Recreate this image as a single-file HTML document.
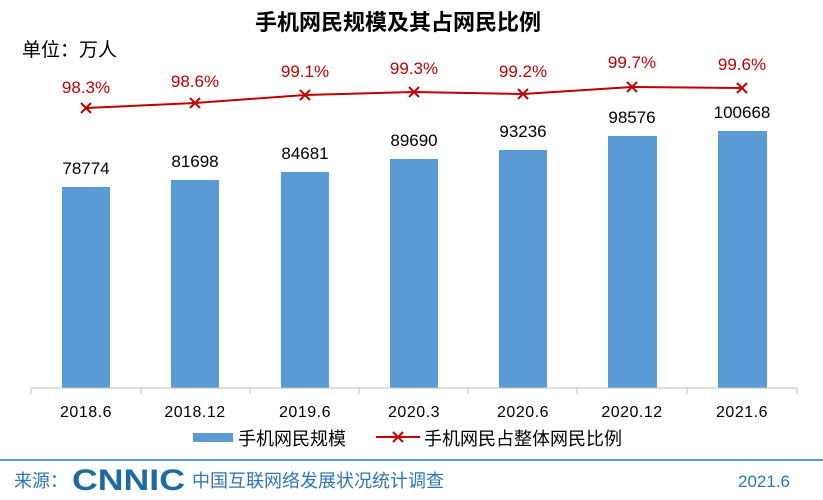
<!DOCTYPE html>
<html><head><meta charset="utf-8"><style>
body{margin:0;background:#fff;}
svg{display:block;}
text{font-family:"Liberation Sans","Noto Sans CJK SC",sans-serif;}
</style></head><body>
<svg width="823" height="500" viewBox="0 0 823 500" xmlns="http://www.w3.org/2000/svg">
<rect width="823" height="500" fill="#fff"/>
<text x="398" y="30" text-anchor="middle" font-size="22" font-weight="bold" fill="#000">手机网民规模及其占网民比例</text>
<text x="22" y="56" font-size="19" fill="#000">单位：万人</text>
<g fill="#5b9bd5">
<rect x="62" y="187" width="48" height="201"/>
<rect x="171" y="180" width="48" height="208"/>
<rect x="281" y="172" width="48" height="216"/>
<rect x="390" y="159" width="48" height="229"/>
<rect x="499" y="150" width="48" height="238"/>
<rect x="608" y="136" width="49" height="252"/>
<rect x="718" y="131" width="49" height="257"/>
</g>
<g font-size="17" fill="#000" text-anchor="middle">
<text x="86" y="174">78774</text>
<text x="195" y="167">81698</text>
<text x="305" y="159">84681</text>
<text x="414" y="146">89690</text>
<text x="523" y="137">93236</text>
<text x="632" y="123">98576</text>
<text x="742" y="118">100668</text>
</g>
<line x1="31" y1="388" x2="797" y2="388" stroke="#bfbfbf" stroke-width="1"/>
<g stroke="#bfbfbf"><line x1="31" y1="388" x2="31" y2="394"/><line x1="141" y1="388" x2="141" y2="394"/><line x1="250" y1="388" x2="250" y2="394"/><line x1="359" y1="388" x2="359" y2="394"/><line x1="468" y1="388" x2="468" y2="394"/><line x1="577" y1="388" x2="577" y2="394"/><line x1="687" y1="388" x2="687" y2="394"/><line x1="797" y1="388" x2="797" y2="394"/></g>
<polyline points="86,108 195,103 305,95 414,92 523,94 632,87 742,88" fill="none" stroke="#c00000" stroke-width="2"/>
<g stroke="#c00000" stroke-width="2">
<path d="M81,103l10,10M91,103l-10,10"/>
<path d="M190,98l10,10M200,98l-10,10"/>
<path d="M300,90l10,10M310,90l-10,10"/>
<path d="M409,87l10,10M419,87l-10,10"/>
<path d="M518,89l10,10M528,89l-10,10"/>
<path d="M627,82l10,10M637,82l-10,10"/>
<path d="M737,83l10,10M747,83l-10,10"/>
</g>
<g font-size="17" fill="#c00000" text-anchor="middle">
<text x="86" y="93">98.3%</text>
<text x="195" y="87">98.6%</text>
<text x="305" y="77">99.1%</text>
<text x="414" y="74">99.3%</text>
<text x="523" y="77">99.2%</text>
<text x="632" y="68">99.7%</text>
<text x="742" y="70">99.6%</text>
</g>
<g font-size="16" fill="#000" text-anchor="middle" letter-spacing="0.5">
<text x="86" y="417">2018.6</text>
<text x="195" y="417">2018.12</text>
<text x="305" y="417">2019.6</text>
<text x="414" y="417">2020.3</text>
<text x="523" y="417">2020.6</text>
<text x="632" y="417">2020.12</text>
<text x="742" y="417">2021.6</text>
</g>
<rect x="193" y="433" width="40" height="9" fill="#5b9bd5"/>
<text x="238" y="445" font-size="18" fill="#000">手机网民规模</text>
<line x1="376" y1="437" x2="420" y2="437" stroke="#c00000" stroke-width="2"/>
<path d="M393,432l10,10M403,432l-10,10" stroke="#c00000" stroke-width="2"/>
<text x="424" y="445" font-size="18" fill="#000">手机网民占整体网民比例</text>
<line x1="0" y1="460" x2="823" y2="460" stroke="#5b9bd5" stroke-width="2"/>
<text x="14" y="487" font-size="18" fill="#2e75b6">来源：</text>
<text x="72" y="490" font-size="30" font-weight="bold" fill="#1f6aa5" textLength="113" lengthAdjust="spacingAndGlyphs">CNNIC</text>
<text x="192" y="487" font-size="18" fill="#2e75b6">中国互联网络发展状况统计调查</text>
<text x="790" y="487" font-size="17" fill="#2e75b6" text-anchor="end">2021.6</text>
</svg>
</body></html>
